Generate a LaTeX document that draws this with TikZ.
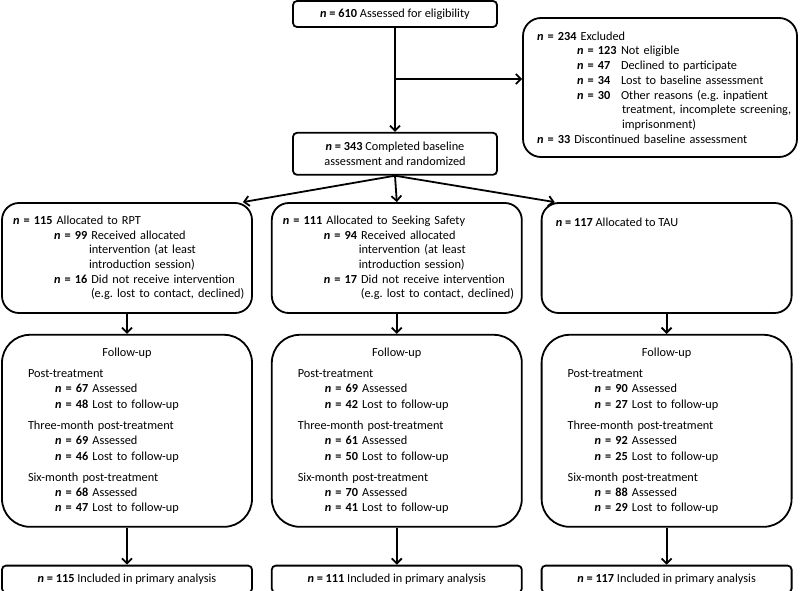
\documentclass[tikz,border=0pt]{standalone}
\usepackage{fontspec}
\setmainfont{Carlito}
\usepackage{tikz}
\usetikzlibrary{arrows.meta,positioning}
\frenchspacing

\newcommand{\nn}[1]{\textbf{\textit{n} = #1}}

\begin{document}
\begin{tikzpicture}[
  x=1pt, y=-1pt,
  font=\fontsize{12.3}{14.7}\selectfont,
  box/.style={draw, line width=1.8pt, rounded corners=4pt, align=center, inner sep=0pt},
  grp/.style={draw, line width=1.8pt, rounded corners=17pt, align=left, inner xsep=11pt, inner ysep=0pt,
    text width=228pt, minimum height=110pt},
  fu/.style={draw, line width=1.8pt, rounded corners=28pt, align=left, inner xsep=26pt, inner ysep=0pt,
    text width=198pt, minimum height=192pt, font=\fontsize{12.3}{15.3}\selectfont},
  res/.style={box, minimum width=250pt, minimum height=27pt},
  arr/.style={-{Straight Barb[length=5pt,width=10pt]}, line width=1.8pt}
]
  \useasboundingbox (0,0) rectangle (800,591);

  \node[box, minimum width=204pt, minimum height=26pt] (elig) at (395,14) {\nn{610} Assessed for eligibility};
  \node[draw, line width=1.8pt, rounded corners=18pt, align=left, inner xsep=14pt, inner ysep=0pt,
    text width=246pt, minimum height=139pt] (excl) at (660,87.5) {%
    \nn{234} Excluded\\
    \hspace*{40pt}\makebox[41pt][l]{\nn{123}}\hspace{3pt}Not eligible\\
    \hspace*{40pt}\makebox[41pt][l]{\nn{47}}\hspace{3pt}Declined to participate\\
    \hspace*{40pt}\makebox[41pt][l]{\nn{34}}\hspace{3pt}Lost to baseline assessment\\
    \hspace*{40pt}\makebox[41pt][l]{\nn{30}}\hspace{3pt}Other reasons (e.g. inpatient\\
    \hspace*{85pt}\mbox{treatment, incomplete screening,}\\
    \hspace*{85pt}imprisonment)\\
    \mbox{\nn{33} Discontinued baseline assessment}};
  \node[box, minimum width=204pt, minimum height=42pt, below=104pt of elig] (rand)
    {\nn{343} Completed baseline\\assessment and randomized};

  % allocation
  \node[grp] (rpt) at (127,258) {%
    \nn{115} Allocated to RPT\\
    \hspace*{41pt}\nn{99} Received allocated\\
    \hspace*{76pt}intervention (at least\\
    \hspace*{76pt}introduction session)\\
    \hspace*{41pt}\mbox{\nn{16} Did not receive intervention}\\
    \hspace*{78pt}\mbox{(e.g. lost to contact, declined)}};
  \node[grp, right=18pt of rpt] (ss) {%
    \nn{111} Allocated to Seeking Safety\\
    \hspace*{41pt}\nn{94} Received allocated\\
    \hspace*{76pt}intervention (at least\\
    \hspace*{76pt}introduction session)\\
    \hspace*{41pt}\mbox{\nn{17} Did not receive intervention}\\
    \hspace*{78pt}\mbox{(e.g. lost to contact, declined)}};
  \node[grp, right=18pt of ss] (tau) {};
  \node[anchor=base west, inner sep=0pt] (tautxt) at ([shift={(15,24)}]tau.north west) {\nn{117} Allocated to TAU};

  % follow-up
  \node[fu, below=20pt of rpt] (furpt) {%
    \makebox[\hsize]{Follow-up}\\[6pt]
    Post-treatment\\
    \hspace*{27pt}\nn{67} Assessed\\
    \hspace*{27pt}\nn{48} Lost to follow-up\\[6pt]
    Three-month post-treatment\\
    \hspace*{27pt}\nn{69} Assessed\\
    \hspace*{27pt}\nn{46} Lost to follow-up\\[6pt]
    Six-month post-treatment\\
    \hspace*{27pt}\nn{68} Assessed\\
    \hspace*{27pt}\nn{47} Lost to follow-up};
  \node[fu, below=20pt of ss] (fuss) {%
    \makebox[\hsize]{Follow-up}\\[6pt]
    Post-treatment\\
    \hspace*{27pt}\nn{69} Assessed\\
    \hspace*{27pt}\nn{42} Lost to follow-up\\[6pt]
    Three-month post-treatment\\
    \hspace*{27pt}\nn{61} Assessed\\
    \hspace*{27pt}\nn{50} Lost to follow-up\\[6pt]
    Six-month post-treatment\\
    \hspace*{27pt}\nn{70} Assessed\\
    \hspace*{27pt}\nn{41} Lost to follow-up};
  \node[fu, below=20pt of tau] (futau) {%
    \makebox[\hsize]{Follow-up}\\[6pt]
    Post-treatment\\
    \hspace*{27pt}\nn{90} Assessed\\
    \hspace*{27pt}\nn{27} Lost to follow-up\\[6pt]
    Three-month post-treatment\\
    \hspace*{27pt}\nn{92} Assessed\\
    \hspace*{27pt}\nn{25} Lost to follow-up\\[6pt]
    Six-month post-treatment\\
    \hspace*{27pt}\nn{88} Assessed\\
    \hspace*{27pt}\nn{29} Lost to follow-up};

  % analysis
  \node[res, below=37pt of furpt] (anrpt) {\nn{115} Included in primary analysis};
  \node[res, below=37pt of fuss] (anss) {\nn{111} Included in primary analysis};
  \node[res, below=37pt of futau] (antau) {\nn{117} Included in primary analysis};

  \coordinate (br) at (395,79);
  \draw[arr] (elig) -- (rand);
  \draw[arr] (br) -- (br -| excl.west);
  \draw[arr] (rand.south) -- ([xshift=-10pt]rpt.north east);
  \draw[arr] (rand.south) -- (ss.north);
  \draw[arr] (rand.south) -- ([xshift=14pt]tau.north west);
  \draw[arr] (rpt) -- (furpt);
  \draw[arr] (ss) -- (fuss);
  \draw[arr] (tau) -- (futau);
  \draw[arr] (furpt) -- (anrpt);
  \draw[arr] (fuss) -- (anss);
  \draw[arr] (futau) -- (antau);
\end{tikzpicture}
\end{document}
